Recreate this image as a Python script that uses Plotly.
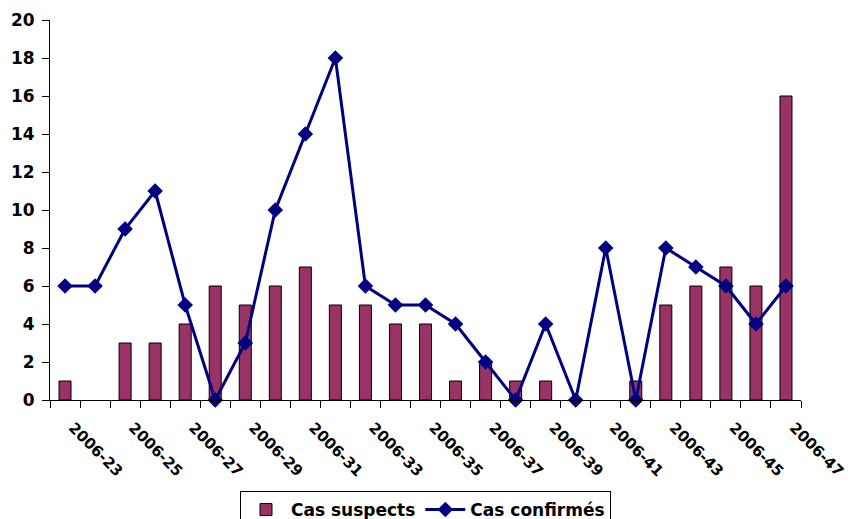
import plotly.graph_objects as go

# Weekly surveillance counts, weeks 2006-23 to 2006-47
weeks = [f"2006-{w}" for w in range(23, 48)]
suspects = [1, 0, 3, 3, 4, 6, 5, 6, 7, 5, 5, 4, 4, 1, 2, 1, 1, 0, 0, 1, 5, 6, 7, 6, 16]
confirmed = [6, 6, 9, 11, 5, 0, 3, 10, 14, 18, 6, 5, 5, 4, 2, 0, 4, 0, 8, 0, 8, 7, 6, 4, 6]

# Only every other week is labelled on the axis
tick_text = [f"<b>{w}</b>" if i % 2 == 0 else "" for i, w in enumerate(weeks)]

FONT = dict(family="DejaVu Sans", size=17, color="black")

# No outline on empty weeks, so they leave no stub on the axis
bar_outline = [1 if v > 0 else 0 for v in suspects]

fig = go.Figure()
fig.add_trace(go.Bar(
    x=weeks, y=suspects, name="<b>Cas suspects</b>",
    marker=dict(color="#993366", line=dict(color="black", width=bar_outline)),
))
fig.add_trace(go.Scatter(
    x=weeks, y=confirmed, name="<b>Cas confirmés</b>",
    mode="lines+markers",
    line=dict(color="#000080", width=3),
    marker=dict(symbol="diamond", size=12, color="#000080"),
    cliponaxis=False,
))

fig.update_layout(
    width=851, height=519,
    margin=dict(l=50, r=50, t=20, b=119, autoexpand=False),
    paper_bgcolor="white", plot_bgcolor="white",
    bargap=0.6,
    showlegend=True,
    legend=dict(
        orientation="h", xref="container", yref="container",
        x=240 / 851, y=1 - 491 / 519, xanchor="left", yanchor="top",
        bordercolor="black", borderwidth=1, bgcolor="white",
        font=dict(family="DejaVu Sans", size=17, color="black"),
        itemwidth=40, tracegroupgap=0,
    ),
    font=FONT,
)
fig.update_xaxes(
    type="category", categoryorder="array", categoryarray=weeks,
    tickmode="array", tickvals=weeks, ticktext=tick_text,
    tickson="boundaries", ticks="outside", ticklen=7, tickcolor="black",
    tickangle=45, tickfont=dict(family="DejaVu Sans", size=15, color="black"),
    ticklabelstandoff=12, ticklabelshift=8,
    showline=True, linecolor="black", linewidth=1,
    showgrid=False, zeroline=False, automargin=False,
    range=[-0.5, len(weeks) - 0.5],
)
fig.update_yaxes(
    range=[0, 20], dtick=2, tick0=0,
    ticks="outside", ticklen=7, tickcolor="black",
    tickfont=dict(family="DejaVu Sans", size=17, color="black"),
    tickprefix="<b>", ticksuffix="</b>", ticklabelstandoff=4,
    showline=True, linecolor="black", linewidth=1,
    showgrid=False, zeroline=False, automargin=False,
)

fig.write_html("out.html")
